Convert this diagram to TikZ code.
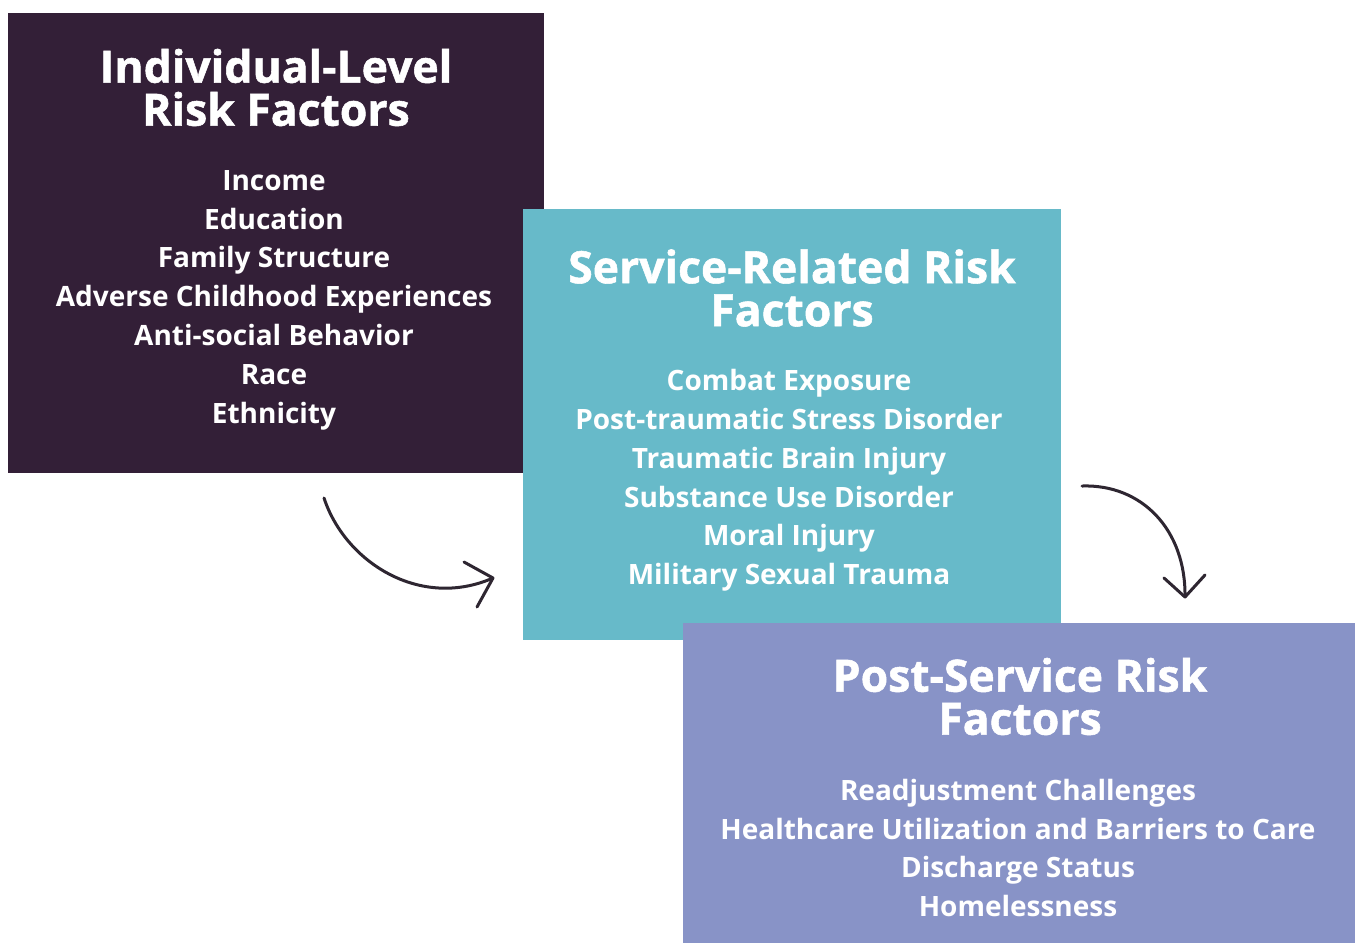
\documentclass[tikz,border=0pt]{standalone}
\usepackage{fontspec}
\setmainfont{Open Sans}
\newfontfamily\headfont{Open Sans}[BoldFeatures={FakeBold=1.2}]
\begin{document}
\definecolor{plum}{HTML}{331F37}
\definecolor{teal}{HTML}{67BAC9}
\definecolor{peri}{HTML}{8893C7}
\definecolor{ink}{HTML}{2E2631}
\begin{tikzpicture}[x=1pt,y=-1pt,
  panel/.style={draw=none,inner sep=0pt,outer sep=0pt},
  heading/.style={text=white,align=center,inner sep=0pt,
    font=\fontsize{44.5}{43}\selectfont\headfont\bfseries},
  items/.style={text=white,align=center,inner sep=0pt,
    font=\fontsize{28}{38.8}\selectfont\bfseries},
  flow/.style={draw=ink,line width=3pt,line cap=round,line join=round}]
\useasboundingbox (0,0) rectangle (1360,943);
\fill[white] (0,0) rectangle (1360,943);

% three panels, each laid over the previous one
\fill[plum] (8,13) rectangle (544,473);
\node[panel] (ind) at (276,243) {};
\fill[teal] (523,209) rectangle (1061,640);
\node[panel] (svc) at (792,424) {};
\fill[peri] (683,623) rectangle (1355,943);
\node[panel] (post) at (1019,783) {};

% panel texts
\node[heading] (indT) at (276,87.5) {Individual-Level\\Risk Factors};
\node[items] (indL) at (274,300) {Income\\Education\\Family Structure\\Adverse Childhood Experiences\\Anti-social Behavior\\Race\\Ethnicity};

\node[heading] (svcT) at (792,288) {Service-Related Risk\\Factors};
\node[items] (svcL) at (789,480.5) {Combat Exposure\\Post-traumatic Stress Disorder\\Traumatic Brain Injury\\Substance Use Disorder\\Moral Injury\\Military Sexual Trauma};

\node[heading] (postT) at (1020,696.5) {Post-Service Risk\\Factors};
\node[items] (postL) at (1018,848) {Readjustment Challenges\\Healthcare Utilization and Barriers to Care\\Discharge Status\\Homelessness};

% curved connectors
\coordinate (a1s) at (324,498);
\coordinate (a1e) at (493,578);
\coordinate (a2s) at (1082,486);
\coordinate (a2e) at (1185,597);
\draw[flow] (a1s) .. controls (345,562) and (420,610) .. (a1e);
\draw[flow] (a1e) ++(-29,-16) -- (a1e) -- ++(-16,29);
\draw[flow] (a2s) .. controls (1142,484) and (1186,530) .. (a2e);
\draw[flow] (a2e) ++(-21,-19) -- (a2e) -- ++(20,-22);
\end{tikzpicture}
\end{document}
